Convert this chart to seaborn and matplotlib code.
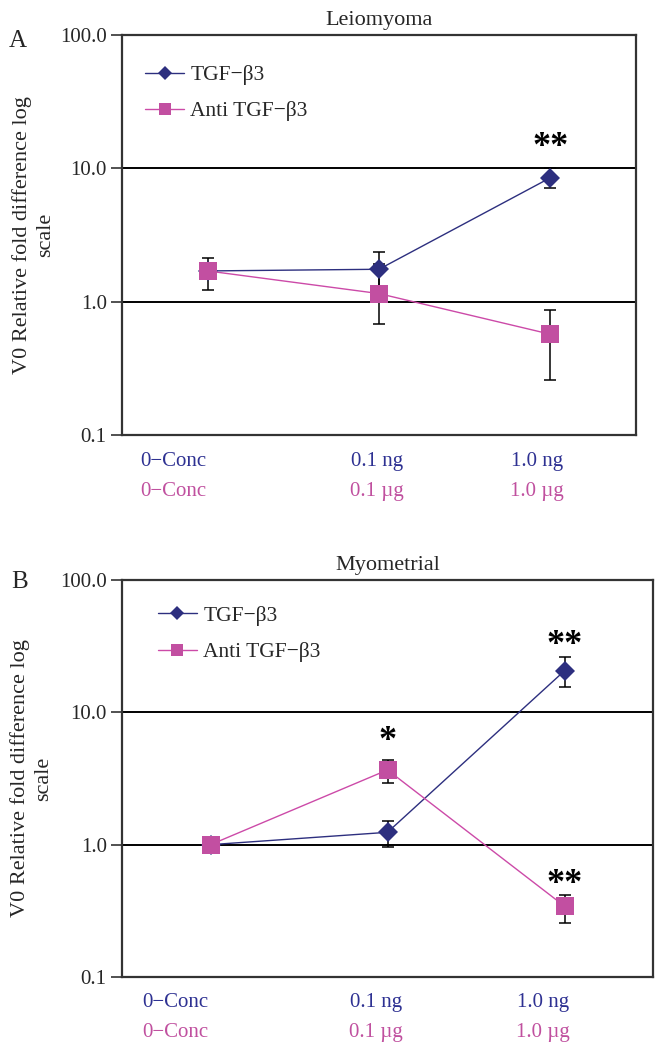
import matplotlib
matplotlib.use("Agg")
import numpy as np
import pandas as pd
import matplotlib.pyplot as plt
import matplotlib.transforms as mtransforms
import seaborn as sns

# Data
CATEGORIES = [0, 1, 2]
TGF_TICKS = ["0\u2212Conc", "0.1 ng", "1.0 ng"]
ANTI_TICKS = ["0\u2212Conc", "0.1 \u00b5g", "1.0 \u00b5g"]
SERIES = ["TGF\u2212\u03b23", "Anti TGF\u2212\u03b23"]

# Panel A - Leiomyoma
A_TGF = [1.70, 1.75, 8.5]
A_TGF_LO = [1.70, 1.31, 7.1]
A_TGF_HI = [1.70, 2.34, 10.0]
A_ANTI = [1.70, 1.15, 0.57]
A_ANTI_LO = [1.22, 0.68, 0.26]
A_ANTI_HI = [2.14, 1.90, 0.87]
A_STARS = [(2, 14.3, "**")]

# Panel B - Myometrial
B_TGF = [1.0, 1.24, 20.6]
B_TGF_LO = [1.0, 0.96, 15.5]
B_TGF_HI = [1.0, 1.52, 26.0]
B_ANTI = [1.0, 3.67, 0.343]
B_ANTI_LO = [1.0, 2.94, 0.255]
B_ANTI_HI = [1.0, 4.38, 0.42]
B_STARS = [(1, 6.0, "*"), (2, 32.0, "**"), (2, 0.50, "**")]

NAVY = "#2d2f7f"
PINK = "#c24fa1"
PINK_LINE = "#cc4aa8"
NAVY_TEXT = "#2e3192"
PINK_TEXT = "#c0509f"

sns.set_style("white")
plt.rcParams["font.family"] = ["Liberation Serif", "DejaVu Serif"]


def draw_panel(ax, title, tgf, tgf_lo, tgf_hi, anti, anti_lo, anti_hi, stars,
               label_x, legend_anchor):
    # error bars behind the markers
    for vals, lo, hi in ((tgf, tgf_lo, tgf_hi), (anti, anti_lo, anti_hi)):
        v = np.array(vals)
        ax.errorbar(CATEGORIES, v, yerr=[v - np.array(lo), np.array(hi) - v],
                    fmt="none", ecolor="black", elinewidth=1.1, capsize=4.5,
                    capthick=1.1, zorder=2)

    df_tgf = pd.DataFrame({"pos": CATEGORIES, "value": tgf})
    df_anti = pd.DataFrame({"pos": CATEGORIES, "value": anti})
    sns.lineplot(data=df_tgf, x="pos", y="value", color=NAVY, marker="D",
                 markersize=10, markeredgewidth=0, linewidth=1.0,
                 label=SERIES[0], ax=ax, zorder=3)
    sns.lineplot(data=df_anti, x="pos", y="value", color=PINK_LINE, marker="s",
                 markersize=13, markerfacecolor=PINK, markeredgewidth=0,
                 linewidth=1.0, label=SERIES[1], ax=ax, zorder=4)

    ax.set_yscale("log")
    ax.set_ylim(0.1, 100)
    ax.set_xlim(-0.5, 2.5)
    ax.set_yticks([0.1, 1, 10, 100])
    ax.set_yticklabels(["0.1", "1.0", "10.0", "100.0"], fontsize=15)
    ax.yaxis.set_minor_locator(matplotlib.ticker.NullLocator())
    ax.set_xticks([])
    ax.set_xlabel("")
    ax.tick_params(axis="y", direction="out", length=8, width=1.2,
                   color="#333333", pad=3, left=True)
    ax.yaxis.grid(True, color="black", linewidth=1.4)
    ax.set_axisbelow(True)
    for sp in ax.spines.values():
        sp.set_color("#333333")
        sp.set_linewidth(1.6)

    ax.set_title(title, fontsize=16, pad=7)
    ax.set_ylabel("V0 Relative fold difference log\nscale", fontsize=16,
                  linespacing=1.3)
    ax.yaxis.set_label_coords(-0.13, 0.5)

    for x, y, s in stars:
        ax.text(x, y, s, ha="center", va="center", fontsize=26,
                fontweight="bold", color="black")

    trans = mtransforms.blended_transform_factory(ax.transData, ax.transAxes)
    for x, t1, t2 in zip(label_x, TGF_TICKS, ANTI_TICKS):
        ax.text(x, -0.065, t1, transform=trans, ha="center", va="center",
                fontsize=15, color=NAVY_TEXT)
        ax.text(x, -0.14, t2, transform=trans, ha="center", va="center",
                fontsize=15, color=PINK_TEXT)

    ax.legend(loc="upper left", bbox_to_anchor=legend_anchor, frameon=False,
              fontsize=15.5, handlelength=1.8, handletextpad=0.3,
              labelspacing=0.75, borderpad=0, borderaxespad=0, markerscale=0.7)


fig = plt.figure(figsize=(6.6, 10.5), dpi=100)
ax_a = fig.add_axes([122 / 660, 1 - 435 / 1050, 514 / 660, 400 / 1050])
ax_b = fig.add_axes([122 / 660, 1 - 977 / 1050, 531 / 660, 397 / 1050])

draw_panel(ax_a, "Leiomyoma", A_TGF, A_TGF_LO, A_TGF_HI,
           A_ANTI, A_ANTI_LO, A_ANTI_HI, A_STARS,
           [-0.20, 0.99, 1.92], (0.045, 0.925))
draw_panel(ax_b, "Myometrial", B_TGF, B_TGF_LO, B_TGF_HI,
           B_ANTI, B_ANTI_LO, B_ANTI_HI, B_STARS,
           [-0.20, 0.935, 1.88], (0.068, 0.935))

fig.text(18 / 660, 1 - 41 / 1050, "A", fontsize=18, ha="center", va="center")
fig.text(20 / 660, 1 - 582 / 1050, "B", fontsize=18, ha="center", va="center")

fig.savefig("out.png", dpi=100)
